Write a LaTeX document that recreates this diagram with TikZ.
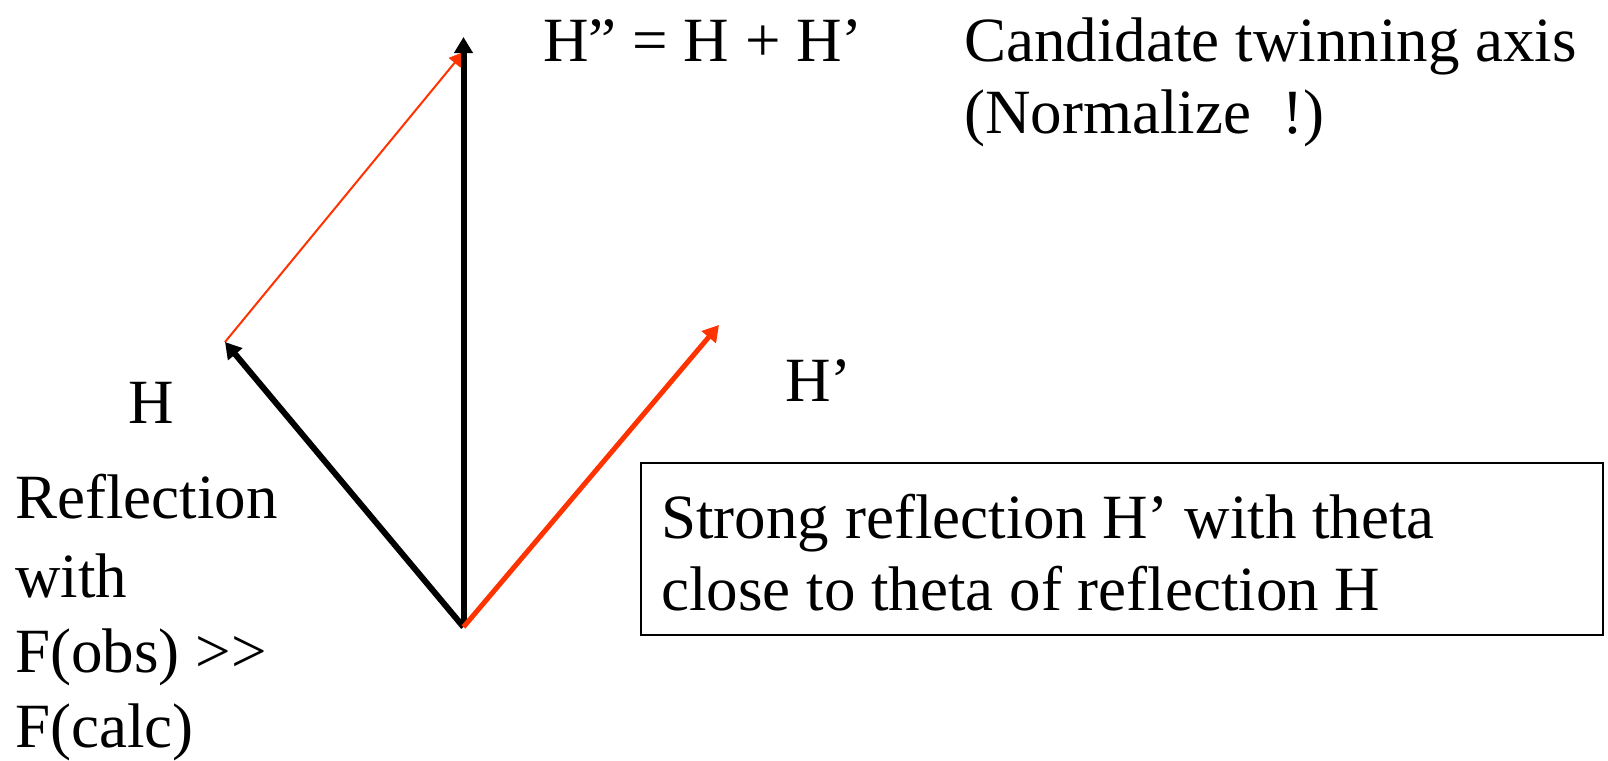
\documentclass[tikz,border=0pt]{standalone}
\usepackage{fontspec}
\setmainfont{Liberation Serif}
\usetikzlibrary{arrows.meta}
\definecolor{vred}{RGB}{255,51,0}
\begin{document}
\begin{tikzpicture}[x=0.5pt,y=-0.5pt,
  txt/.style={anchor=base west,inner sep=0pt,font=\fontsize{31.5}{36}\selectfont},
  blackvec/.style={line width=3pt,-{Triangle[length=8pt,width=9pt]}},
  redvec/.style={vred,line width=2.5pt,-{Triangle[length=8pt,width=9pt]}},
  thinvec/.style={vred,line width=1pt,-{Triangle[length=7pt,width=7.5pt]}},
  boxstyle/.style={draw,line width=1pt,anchor=north west,inner sep=0pt,
    minimum width=481pt,minimum height=86pt}]
\useasboundingbox (0,0) rectangle (1608,761);
% vector points
\coordinate (O) at (463.5,627);
\coordinate (Htip) at (225,342);
\coordinate (Hpp) at (463.5,37);
\coordinate (Hptip) at (719,325);
\coordinate (Hsend) at (463.5,52);
% vectors
\draw[thinvec] (Htip) -- (Hsend);
\draw[blackvec] (O) -- (Hpp);
\draw[blackvec] (O) -- (Htip);
\draw[redvec] (O) -- (Hptip);
% labels
\node[txt] (lsum) at (543,61) {H” = H + H’};
\node[txt] (lcand) at (964,61) {Candidate twinning axis};
\node[txt] (lnorm) at (964,133) {(Normalize\ \ !)};
\node[txt] (lHp) at (785,401) {H’};
\node[txt] (lH) at (128,423) {H};
\node[txt] (lr1) at (15,518) {Reflection};
\node[txt] (lr2) at (15,597) {with};
\node[txt] (lr3) at (15,672) {F(obs) {>}\kern0pt{>}};
\node[txt] (lr4) at (15,747) {F(calc)};
% box
\node[boxstyle] (box) at (640,462) {};
\node[txt] (b1) at (661,538) {Strong reflection H’ with theta};
\node[txt] (b2) at (661,610) {close to theta of reflection H};
\end{tikzpicture}
\end{document}
